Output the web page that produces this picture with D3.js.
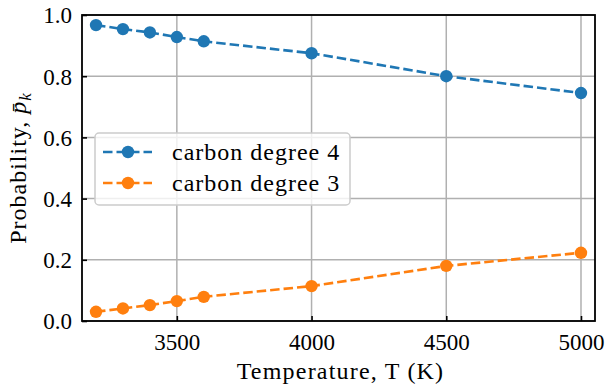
<!DOCTYPE html>
<html><head><meta charset="utf-8">
<script src="https://cdn.jsdelivr.net/npm/d3@7"></script>
<style>body{margin:0;background:#fff;}</style></head>
<body><svg id="c" width="607" height="385"></svg>
<script>
const temperatures = [3200, 3300, 3400, 3500, 3600, 4000, 4500, 5000];
const degree4 = [0.967, 0.954, 0.943, 0.928, 0.914, 0.875, 0.800, 0.745];
const degree3 = [0.030, 0.041, 0.052, 0.065, 0.079, 0.114, 0.180, 0.223];
const seriesNames = ["carbon degree 4", "carbon degree 3"];
const seriesColors = ["#1f77b4", "#ff7f0e"];
const xTicks = [3500, 4000, 4500, 5000];
const yTicks = [0.0, 0.2, 0.4, 0.6, 0.8, 1.0];

const FONT = "'Liberation Serif'";
const svg = d3.select("#c");
const L = 82, R = 595, T = 15, B = 321;
const x = d3.scaleLinear().domain([3148, 5052]).range([L, R]);
const y = d3.scaleLinear().domain([0, 1]).range([B, T]);

// grid
const g = svg.append("g");
g.selectAll(".gx").data(xTicks).enter().append("line")
  .attr("x1", d => x(d)).attr("x2", d => x(d)).attr("y1", T).attr("y2", B)
  .attr("stroke", "#b0b0b0").attr("stroke-width", 1.5);
g.selectAll(".gy").data(yTicks).enter().append("line")
  .attr("x1", L).attr("x2", R).attr("y1", d => y(d)).attr("y2", d => y(d))
  .attr("stroke", "#b0b0b0").attr("stroke-width", 1.5);

// series
const data = [degree4, degree3];
const line = d3.line().x((d, i) => x(temperatures[i])).y(d => y(d));
data.forEach((vals, k) => {
  svg.append("path").datum(vals).attr("d", line)
    .attr("fill", "none").attr("stroke", seriesColors[k])
    .attr("stroke-width", 2.6).attr("stroke-dasharray", "9.5,4");
  svg.selectAll(".m" + k).data(vals).enter().append("circle")
    .attr("cx", (d, i) => x(temperatures[i])).attr("cy", d => y(d))
    .attr("r", 6.2).attr("fill", seriesColors[k]);
});

// axes
const xAxis = d3.axisBottom(x).tickValues(xTicks).tickSizeInner(-5).tickSizeOuter(0).tickPadding(12).tickFormat(d3.format("d"));
const yAxis = d3.axisLeft(y).tickValues(yTicks).tickSizeInner(-5).tickSizeOuter(0).tickPadding(10).tickFormat(d3.format(".1f"));
const gx = svg.append("g").attr("transform", `translate(0,${B})`).call(xAxis);
const gy = svg.append("g").attr("transform", `translate(${L},0)`).call(yAxis);
[gx, gy].forEach(a => {
  a.attr("font-family", FONT).attr("font-size", 23);
  a.select(".domain").remove();
  a.selectAll(".tick line").attr("stroke", "#000").attr("stroke-width", 1.6);
  a.selectAll("text").attr("font-family", FONT).attr("font-size", 23).attr("fill", "#000");
});
gx.selectAll("text").attr("dy", "0.72em");
gy.selectAll("text").attr("dy", "0.34em");

// frame
svg.append("rect").attr("x", L).attr("y", T).attr("width", R - L).attr("height", B - T)
  .attr("fill", "none").attr("stroke", "#000").attr("stroke-width", 1.8);

// labels
svg.append("text").attr("x", (L + R) / 2 + 2).attr("y", 379).attr("text-anchor", "middle")
  .attr("font-family", FONT).attr("font-size", 24).attr("letter-spacing", 1.2)
  .text("Temperature, T (K)");
const yl = svg.append("text").attr("transform", `translate(26,${(T + B) / 2}) rotate(-90)`)
  .attr("text-anchor", "middle").attr("font-family", FONT).attr("font-size", 24)
  .attr("letter-spacing", 1);
yl.append("tspan").text("Probability, ");
yl.append("tspan").attr("font-style", "italic").text("p\u0304");
yl.append("tspan").attr("font-style", "italic").attr("font-size", 17).attr("dy", 5).text("k");

// legend
const lg = svg.append("g");
lg.append("rect").attr("x", 95).attr("y", 133).attr("width", 255).attr("height", 72)
  .attr("rx", 4).attr("fill", "#fff").attr("fill-opacity", 0.8)
  .attr("stroke", "#cccccc").attr("stroke-width", 1.5);
seriesNames.forEach((name, k) => {
  const cy = 152 + k * 31;
  lg.append("line").attr("x1", 103).attr("x2", 152).attr("y1", cy).attr("y2", cy)
    .attr("stroke", seriesColors[k]).attr("stroke-width", 2.6).attr("stroke-dasharray", "9.5,4");
  lg.append("circle").attr("cx", 128).attr("cy", cy).attr("r", 6.2).attr("fill", seriesColors[k]);
  lg.append("text").attr("x", 172).attr("y", cy).attr("dy", "0.32em")
    .attr("font-family", FONT).attr("font-size", 24).attr("letter-spacing", 1)
    .text(name);
});
</script></body></html>
